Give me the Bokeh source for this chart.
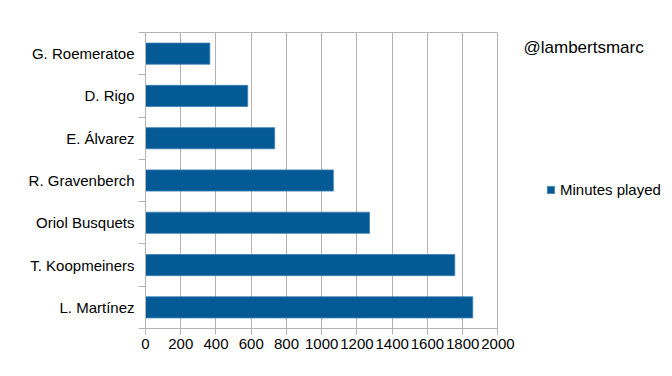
from bokeh.plotting import figure
from bokeh.models import (ColumnDataSource, FixedTicker, Range1d, Label, Legend,
                          LegendItem, LinearAxis)
from bokeh.embed import file_html
from bokeh.resources import INLINE

players = ["G. Roemeratoe", "D. Rigo", "E. Álvarez", "R. Gravenberch",
           "Oriol Busquets", "T. Koopmeiners", "L. Martínez"]
minutes = [365, 580, 733, 1066, 1271, 1755, 1857]
x_ticks = [0, 200, 400, 600, 800, 1000, 1200, 1400, 1600, 1800, 2000]
series_name = "Minutes played"
watermark = "@lambertsmarc"

n = len(players)
ypos = [n - i - 0.5 for i in range(n)]
src = ColumnDataSource(dict(y=ypos, right=minutes, name=players))

FONT = "Liberation Sans"
GRAY = "#b3b3b3"
BAR = "#045a95"
X_MAX = x_ticks[-1]

# frame spans the full width so legend/watermark (in the right area) are not clipped
p = figure(width=664, height=368, output_backend="svg", toolbar_location=None,
           x_range=Range1d(0, 2945), y_range=Range1d(0, n),
           min_border_left=145, min_border_right=0, min_border_top=32,
           min_border_bottom=40)
p.outline_line_color = None

r = p.hbar(y="y", right="right", left=0, height=0.5, source=src,
           fill_color=BAR, line_color="#3d7fb3", line_width=0.8)

# bottom x axis
p.xaxis.ticker = FixedTicker(ticks=x_ticks, minor_ticks=[])
p.xaxis.bounds = (0, X_MAX)
p.xaxis.axis_line_color = GRAY
p.xaxis.major_tick_line_color = GRAY
p.xaxis.major_tick_in = 0
p.xaxis.major_tick_out = 6
p.xaxis.major_label_text_font = FONT
p.xaxis.major_label_text_font_size = "15px"
p.xaxis.major_label_text_color = "black"
p.xaxis.major_label_standoff = 4

# top border line
top = LinearAxis(bounds=(0, X_MAX), axis_line_color=GRAY,
                 major_tick_line_color=None, minor_tick_line_color=None,
                 major_label_text_font_size="0px",
                 ticker=FixedTicker(ticks=[], minor_ticks=[]))
p.add_layout(top, "above")

# y axis
p.yaxis.ticker = FixedTicker(ticks=ypos, minor_ticks=list(range(n + 1)))
p.yaxis.major_label_overrides = {y: name for y, name in zip(ypos, players)}
p.yaxis.axis_line_color = GRAY
p.yaxis.major_tick_out = 0
p.yaxis.major_tick_in = 0
p.yaxis.minor_tick_out = 7
p.yaxis.minor_tick_in = 0
p.yaxis.minor_tick_line_color = GRAY
p.yaxis.major_label_text_font = FONT
p.yaxis.major_label_text_font_size = "15px"
p.yaxis.major_label_text_color = "black"
p.yaxis.major_label_standoff = 4

p.xgrid.ticker = FixedTicker(ticks=x_ticks)
p.xgrid.grid_line_color = GRAY
p.ygrid.grid_line_color = None

legend = Legend(items=[LegendItem(label=series_name, renderers=[r])],
                location=(401, 130), padding=0, margin=0, spacing=0,
                glyph_width=9, glyph_height=9, label_standoff=5,
                label_text_font=FONT, label_text_font_size="15px",
                label_text_color="black",
                border_line_color=None, background_fill_alpha=0)
p.add_layout(legend, "center")

lbl = Label(x=378, y=281, x_units="screen", y_units="screen", text=watermark,
            text_font=FONT, text_font_size="17px", text_baseline="middle",
            text_color="black")
p.add_layout(lbl)

open("out.html", "w").write(file_html(p, INLINE))
